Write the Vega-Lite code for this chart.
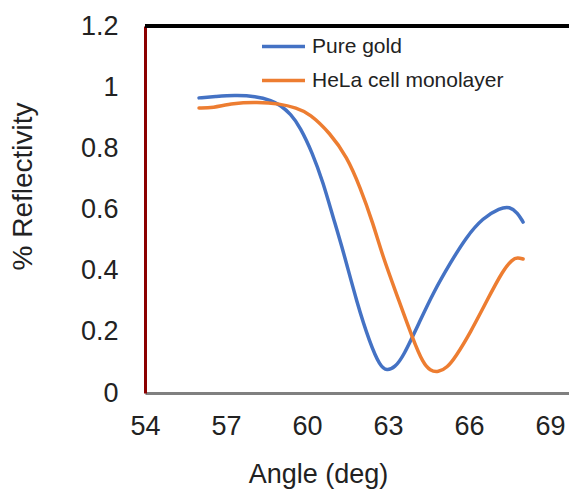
{
  "$schema": "https://vega.github.io/schema/vega-lite/v6.json",
  "autosize": "none",
  "padding": {"left": 145, "top": 26, "right": 0, "bottom": 96},
  "width": 424,
  "height": 367,
  "background": "white",
  "config": {
    "view": {"stroke": null},
    "font": "Liberation Sans",
    "axis": {"grid": false, "ticks": false, "labelColor": "#222", "titleColor": "#222", "titleFontWeight": "normal", "labelFlush": false}
  },
  "data": {"values": [
    {"angle": 56.0, "r": 0.965, "series": "Pure gold"},
    {"angle": 56.6, "r": 0.969, "series": "Pure gold"},
    {"angle": 57.3, "r": 0.974, "series": "Pure gold"},
    {"angle": 58.1, "r": 0.971, "series": "Pure gold"},
    {"angle": 58.7, "r": 0.956, "series": "Pure gold"},
    {"angle": 59.0, "r": 0.942, "series": "Pure gold"},
    {"angle": 59.4, "r": 0.912, "series": "Pure gold"},
    {"angle": 59.74, "r": 0.87, "series": "Pure gold"},
    {"angle": 60.2, "r": 0.785, "series": "Pure gold"},
    {"angle": 60.6, "r": 0.687, "series": "Pure gold"},
    {"angle": 60.96, "r": 0.576, "series": "Pure gold"},
    {"angle": 61.33, "r": 0.468, "series": "Pure gold"},
    {"angle": 61.85, "r": 0.294, "series": "Pure gold"},
    {"angle": 62.33, "r": 0.163, "series": "Pure gold"},
    {"angle": 62.7, "r": 0.088, "series": "Pure gold"},
    {"angle": 62.96, "r": 0.072, "series": "Pure gold"},
    {"angle": 63.25, "r": 0.084, "series": "Pure gold"},
    {"angle": 63.56, "r": 0.118, "series": "Pure gold"},
    {"angle": 64.2, "r": 0.239, "series": "Pure gold"},
    {"angle": 64.67, "r": 0.327, "series": "Pure gold"},
    {"angle": 65.3, "r": 0.425, "series": "Pure gold"},
    {"angle": 65.9, "r": 0.51, "series": "Pure gold"},
    {"angle": 66.5, "r": 0.572, "series": "Pure gold"},
    {"angle": 67.15, "r": 0.605, "series": "Pure gold"},
    {"angle": 67.5, "r": 0.61, "series": "Pure gold"},
    {"angle": 67.8, "r": 0.589, "series": "Pure gold"},
    {"angle": 68.0, "r": 0.559, "series": "Pure gold"},
    {"angle": 56.0, "r": 0.932, "series": "HeLa cell monolayer"},
    {"angle": 56.5, "r": 0.932, "series": "HeLa cell monolayer"},
    {"angle": 57.26, "r": 0.948, "series": "HeLa cell monolayer"},
    {"angle": 58.15, "r": 0.951, "series": "HeLa cell monolayer"},
    {"angle": 59.0, "r": 0.946, "series": "HeLa cell monolayer"},
    {"angle": 59.6, "r": 0.932, "series": "HeLa cell monolayer"},
    {"angle": 60.1, "r": 0.914, "series": "HeLa cell monolayer"},
    {"angle": 60.85, "r": 0.85, "series": "HeLa cell monolayer"},
    {"angle": 61.48, "r": 0.772, "series": "HeLa cell monolayer"},
    {"angle": 61.96, "r": 0.674, "series": "HeLa cell monolayer"},
    {"angle": 62.44, "r": 0.556, "series": "HeLa cell monolayer"},
    {"angle": 62.81, "r": 0.445, "series": "HeLa cell monolayer"},
    {"angle": 63.3, "r": 0.327, "series": "HeLa cell monolayer"},
    {"angle": 63.93, "r": 0.173, "series": "HeLa cell monolayer"},
    {"angle": 64.3, "r": 0.097, "series": "HeLa cell monolayer"},
    {"angle": 64.56, "r": 0.073, "series": "HeLa cell monolayer"},
    {"angle": 64.85, "r": 0.067, "series": "HeLa cell monolayer"},
    {"angle": 65.2, "r": 0.084, "series": "HeLa cell monolayer"},
    {"angle": 65.5, "r": 0.118, "series": "HeLa cell monolayer"},
    {"angle": 66.04, "r": 0.196, "series": "HeLa cell monolayer"},
    {"angle": 66.67, "r": 0.304, "series": "HeLa cell monolayer"},
    {"angle": 67.26, "r": 0.402, "series": "HeLa cell monolayer"},
    {"angle": 67.6, "r": 0.437, "series": "HeLa cell monolayer"},
    {"angle": 67.8, "r": 0.443, "series": "HeLa cell monolayer"},
    {"angle": 68.0, "r": 0.438, "series": "HeLa cell monolayer"}
  ]},
  "layer": [
    {
      "mark": {"type": "rule", "color": "black", "strokeWidth": 3},
      "encoding": {"y": {"datum": 1.2, "type": "quantitative", "scale": {"domain": [0, 1.2]}}}
    },
    {
      "mark": {"type": "line", "interpolate": "basis", "strokeWidth": 3.5, "strokeCap": "round"},
      "encoding": {
        "x": {"field": "angle", "type": "quantitative",
          "scale": {"domain": [54, 69.7], "nice": false, "zero": false},
          "axis": {"values": [54, 57, 60, 63, 66, 69], "labelFontSize": 27, "labelPadding": 20,
            "domainColor": "#808080", "domainWidth": 3,
            "title": "Angle (deg)", "titleFontSize": 27, "titleX": 173, "titleY": 89,
            "titleAnchor": null, "titleAlign": "center", "titleBaseline": "alphabetic"}},
        "y": {"field": "r", "type": "quantitative",
          "scale": {"domain": [0, 1.2], "nice": false},
          "axis": {"values": [0, 0.2, 0.4, 0.6, 0.8, 1, 1.2], "format": "~g", "labelFontSize": 27, "labelPadding": 27,
            "domainColor": "#8B0000", "domainWidth": 3,
            "title": "% Reflectivity", "titleFontSize": 28, "titleX": -122, "titleY": 160,
            "titleAngle": 270, "titleAlign": "center", "titleBaseline": "middle"}},
        "color": {"field": "series", "type": "nominal",
          "scale": {"domain": ["Pure gold", "HeLa cell monolayer"], "range": ["#4472C4", "#ED7D31"]},
          "legend": {"title": null, "orient": "none", "legendX": 115, "legendY": -3,
            "symbolType": "stroke", "symbolSize": 1849, "symbolStrokeWidth": 3.5,
            "labelFontSize": 21, "labelLimit": 400, "labelColor": "#222", "labelOffset": 5, "rowPadding": -13, "padding": 0}}
      }
    }
  ]
}
